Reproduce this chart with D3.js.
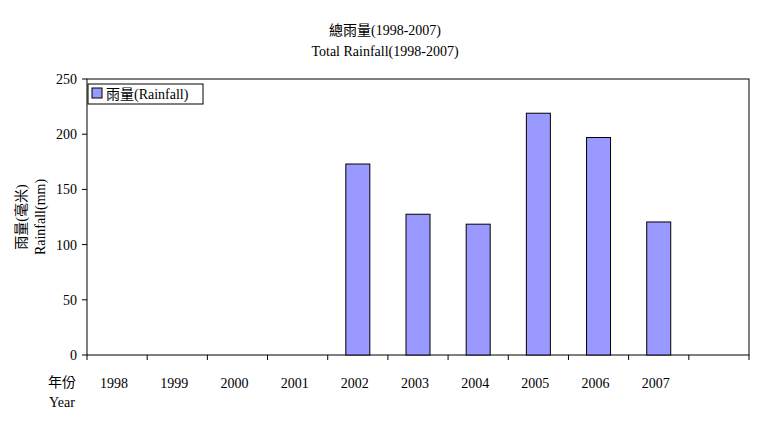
<!DOCTYPE html>
<html><head><meta charset="utf-8">
<script src="https://cdn.jsdelivr.net/npm/d3@7"></script>
<style>body{margin:0;background:#fff}text{font-family:"Liberation Serif","Noto Sans CJK TC",serif;font-size:14px;fill:#000}</style>
</head><body><svg id="c" width="771" height="443"></svg>
<script>
const categories=["1998","1999","2000","2001","2002","2003","2004","2005","2006","2007",""];
const rainfall=[null,null,null,null,173,127.5,118.5,219,197,120.5,null];
const yTicks=[0,50,100,150,200,250];
const svg=d3.select("#c");
const L=87,R=749,T=79,B=355;
const x=d3.scaleBand().domain(d3.range(categories.length)).range([L,R]);
const y=d3.scaleLinear().domain([0,250]).range([B,T]);
svg.append("rect").attr("x",L).attr("y",T).attr("width",R-L).attr("height",B-T).attr("fill","none").attr("stroke","#000");
svg.selectAll(".b").data(rainfall.map((v,i)=>({v,i})).filter(d=>d.v!=null)).enter().append("rect")
 .attr("x",d=>x(d.i)+x.bandwidth()/2-12).attr("width",24).attr("y",d=>y(d.v)).attr("height",d=>B-y(d.v))
 .attr("fill","#9999ff").attr("stroke","#000");
yTicks.forEach(t=>{svg.append("line").attr("x1",L-5).attr("x2",L).attr("y1",y(t)).attr("y2",y(t)).attr("stroke","#000");
 svg.append("text").attr("x",L-10).attr("y",y(t)+5).attr("text-anchor","end").text(t);});
categories.forEach((c,i)=>{svg.append("line").attr("x1",x(i)).attr("x2",x(i)).attr("y1",B).attr("y2",B+5).attr("stroke","#000");
 svg.append("text").attr("x",x(i)+x.bandwidth()/2-3).attr("y",388).attr("text-anchor","middle").text(c);});
svg.append("line").attr("x1",R).attr("x2",R).attr("y1",B).attr("y2",B+5).attr("stroke","#000");
svg.append("text").attr("x",385).attr("y",35).attr("text-anchor","middle").text("總雨量(1998-2007)");
svg.append("text").attr("x",385).attr("y",56).attr("text-anchor","middle").text("Total Rainfall(1998-2007)");
svg.append("text").attr("x",62).attr("y",387).attr("text-anchor","middle").text("年份");
svg.append("text").attr("x",62).attr("y",407).attr("text-anchor","middle").text("Year");
svg.append("text").attr("transform","translate(26,217) rotate(-90)").attr("text-anchor","middle").text("雨量(毫米)");
svg.append("text").attr("transform","translate(45,217) rotate(-90)").attr("text-anchor","middle").text("Rainfall(mm)");
svg.append("rect").attr("x",88).attr("y",84).attr("width",115).attr("height",20).attr("fill","#fff").attr("stroke","#000");
svg.append("rect").attr("x",92).attr("y",88).attr("width",10).attr("height",10).attr("fill","#9999ff").attr("stroke","#000");
svg.append("text").attr("x",106).attr("y",99).text("雨量(Rainfall)");
</script></body></html>
